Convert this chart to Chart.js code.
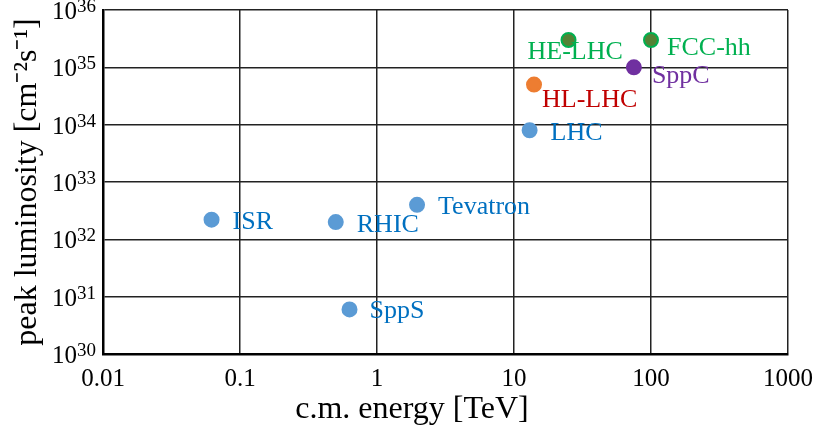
<!DOCTYPE html>
<html>
<head>
<meta charset="utf-8">
<script src="https://cdn.jsdelivr.net/npm/chart.js@4"></script>
<style>
  html, body { margin: 0; padding: 0; background: #fff; }
  #wrap { width: 813px; height: 432px; }
</style>
</head>
<body>
<div id="wrap"><canvas id="chart"></canvas></div>
<script>
// colliders: c.m. energy [TeV] vs peak luminosity [cm^-2 s^-1]
const names = ["ISR", "RHIC", "Tevatron", "SppS", "LHC", "HL-LHC", "HE-LHC", "FCC-hh", "SppC"];
const energies = [0.062, 0.5, 1.96, 0.63, 13, 14, 25, 100, 75];
const luminosities = [2.2e32, 2e32, 4e32, 6e30, 8e33, 5e34, 3e35, 3e35, 1e35];
const xTicks = [0.01, 0.1, 1, 10, 100, 1000];
const yExponents = [30, 31, 32, 33, 34, 35, 36];
const xTitle = "c.m. energy [TeV]";

const SERIF = "'Liberation Serif', 'Times New Roman', serif";

const STYLE = {
  "ISR":      { fill: "#5b9bd5", border: "#5b9bd5", text: "#0070c0", dx: 21, dy: 2 },
  "RHIC":     { fill: "#5b9bd5", border: "#5b9bd5", text: "#0070c0", dx: 21, dy: 3 },
  "Tevatron": { fill: "#5b9bd5", border: "#5b9bd5", text: "#0070c0", dx: 21, dy: 2 },
  "SppS":     { fill: "#5b9bd5", border: "#5b9bd5", text: "#0070c0", dx: 20, dy: 2 },
  "LHC":      { fill: "#5b9bd5", border: "#5b9bd5", text: "#0070c0", dx: 21, dy: 3 },
  "HL-LHC":   { fill: "#ed7d31", border: "#ed7d31", text: "#c00000", dx: 8, dy: 16 },
  "HE-LHC":   { fill: "#548235", border: "#00b050", text: "#00b050", dx: -41, dy: 12 },
  "FCC-hh":   { fill: "#548235", border: "#00b050", text: "#00b050", dx: 16, dy: 8 },
  "SppC":     { fill: "#7030a0", border: "#7030a0", text: "#7030a0", dx: 18, dy: 9 },
};

const points = names.map((n, i) => ({ x: energies[i], y: luminosities[i] }));

// point names, "10^n" y tick labels and the x title drawn by hand
const annotations = {
  id: "annotations",
  afterDatasetsDraw(chart) {
    const ctx = chart.ctx;
    const meta = chart.getDatasetMeta(0);
    ctx.save();
    ctx.font = "26px " + SERIF;
    ctx.textBaseline = "middle";
    ctx.textAlign = "left";
    meta.data.forEach((el, i) => {
      const s = STYLE[names[i]];
      ctx.fillStyle = s.text;
      ctx.fillText(names[i], el.x + s.dx, el.y + s.dy);
    });

    const yScale = chart.scales.y;
    const right = yScale.right - 7;
    ctx.fillStyle = "#000";
    ctx.textAlign = "right";
    yExponents.forEach((e) => {
      const y = yScale.getPixelForValue(Math.pow(10, e));
      ctx.font = "19px " + SERIF;
      ctx.textBaseline = "alphabetic";
      const sup = String(e);
      const w = ctx.measureText(sup).width;
      ctx.fillText(sup, right, y + 2);
      ctx.font = "25px " + SERIF;
      ctx.fillText("10", right - w, y + 9);
    });

    // title sits a little left of the plot centre in the original
    const xScale = chart.scales.x;
    ctx.font = "32px " + SERIF;
    ctx.textAlign = "center";
    ctx.textBaseline = "middle";
    ctx.fillText(xTitle, xScale.getPixelForValue(1.8), 410);
    ctx.restore();
  },
};

new Chart(document.getElementById("chart"), {
  type: "scatter",
  data: {
    datasets: [{
      data: points,
      pointRadius: 7,
      pointHoverRadius: 7,
      pointBorderWidth: 2,
      pointBackgroundColor: names.map((n) => STYLE[n].fill),
      pointBorderColor: names.map((n) => STYLE[n].border),
    }],
  },
  plugins: [annotations],
  options: {
    responsive: true,
    maintainAspectRatio: false,
    animation: false,
    layout: { padding: { top: 10, right: 25, left: 0, bottom: 0 } },
    plugins: { legend: { display: false }, tooltip: { enabled: false } },
    scales: {
      x: {
        type: "logarithmic",
        min: 0.01,
        max: 1000,
        afterBuildTicks: (scale) => { scale.ticks = xTicks.map((v) => ({ value: v })); },
        afterFit: (scale) => {
          scale.height = 78;
          scale.paddingLeft = 0;
          scale.paddingRight = 0;
        },
        ticks: {
          color: "#000",
          font: { family: SERIF, size: 25 },
          padding: 10,
          maxRotation: 0,
          callback: (v) => String(v),
        },
        grid: { color: "#222", lineWidth: 1.5, drawTicks: false },
        border: { color: "#000", width: 2.5 },
        title: { display: false },
      },
      y: {
        type: "logarithmic",
        min: 1e30,
        max: 1e36,
        afterBuildTicks: (scale) => { scale.ticks = yExponents.map((e) => ({ value: Math.pow(10, e) })); },
        afterFit: (scale) => { scale.width = 103; },
        ticks: { display: false },
        grid: { color: "#222", lineWidth: 1.5, drawTicks: false },
        border: { color: "#000", width: 2.5 },
        title: {
          display: true,
          text: "peak luminosity [cm⁻²s⁻¹]",
          color: "#000",
          font: { family: SERIF, size: 32 },
          padding: { top: 8, bottom: 0 },
        },
      },
    },
  },
});
</script>
</body>
</html>
